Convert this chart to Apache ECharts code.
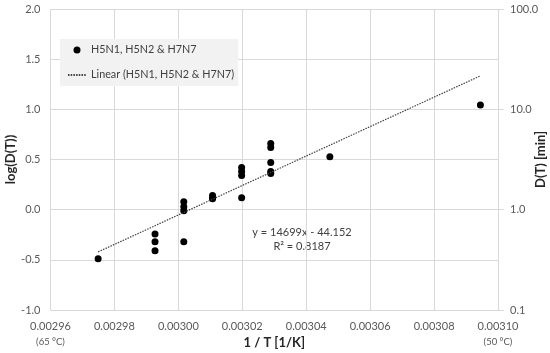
<!DOCTYPE html>
<html><head><meta charset="utf-8">
<script src="https://cdn.jsdelivr.net/npm/echarts@6/dist/echarts.min.js"></script>
<style>html,body{margin:0;padding:0;background:#fff}#c{width:550px;height:353px}</style>
</head><body><div id="c"></div>
<script>
// 1/T [1/K] of each measurement
const invT = [0.0029749, 0.0029927, 0.0029927, 0.0029927, 0.0030017, 0.0030017, 0.0030017, 0.0030017,
  0.0030107, 0.0030107, 0.0030107, 0.0030198, 0.0030198, 0.0030198, 0.0030198,
  0.0030289, 0.0030289, 0.0030289, 0.0030289, 0.0030289, 0.0030474, 0.0030945];
// log(D(T))
const logD = [-0.49, -0.243, -0.32, -0.41, 0.08, 0.03, -0.01, -0.32,
  0.14, 0.12, 0.11, 0.42, 0.38, 0.34, 0.12,
  0.66, 0.62, 0.47, 0.38, 0.36, 0.527, 1.043];
// linear trend line end points
const trendX = [0.0029749, 0.0030945];
const trendY = [-0.421, 1.334];
const xTicksNote = {"0.00296": "(65 °C)", "0.00310": "(50 °C)"};
const seriesName = "H5N1, H5N2 & H7N7";
const trendName = "Linear (H5N1, H5N2 & H7N7)";
const eqText = "y = 14699x - 44.152";
const r2Text = "R² = 0.8187";

const FONT = "Lato, 'Open Sans', sans-serif";
const chart = echarts.init(document.getElementById('c'), null, {renderer: 'canvas'});
chart.setOption({
  animation: false,
  textStyle: {fontFamily: FONT},
  grid: {left: 50.5, right: 52, top: 9, bottom: 43, containLabel: false, outerBoundsMode: 'none'},
  legend: {
    left: 60, top: 39, orient: 'vertical',
    backgroundColor: '#f2f2f2', padding: [5.5, 4, 5.5, 7],
    itemWidth: 18, itemHeight: 7, itemGap: 14, itemTextGap: 4,
    textStyle: {fontFamily: FONT, fontSize: 10.8, color: '#404040'},
    data: [{name: seriesName, icon: 'circle'},
           {name: trendName, itemStyle: {color: 'transparent', borderWidth: 0}}]
  },
  xAxis: {
    type: 'value', min: 0.00296, max: 0.00310, interval: 0.00002,
    name: '1 / T [1/K]', nameLocation: 'middle', nameGap: 26, nameMoveOverlap: false,
    nameTextStyle: {fontFamily: FONT, fontSize: 13, fontWeight: 'bold', color: '#262626'},
    axisLine: {show: false}, axisTick: {show: false},
    splitLine: {show: true, lineStyle: {color: '#d9d9d9', width: 1}},
    axisLabel: {
      margin: 9, color: '#595959', fontSize: 11, fontFamily: FONT,
      formatter: function (v) {
        const s = v.toFixed(5);
        return xTicksNote[s] ? '{a|' + s + '}\n{b|' + xTicksNote[s] + '}' : '{a|' + s + '}';
      },
      rich: {a: {fontSize: 11, lineHeight: 15, color: '#595959', fontFamily: FONT},
             b: {fontSize: 9.5, lineHeight: 15, color: '#595959', fontFamily: FONT}}
    }
  },
  yAxis: [{
    type: 'value', min: -1, max: 2, interval: 0.5,
    name: 'log(D(T))', nameLocation: 'middle', nameGap: 33, nameMoveOverlap: false,
    nameTextStyle: {fontFamily: FONT, fontSize: 13, fontWeight: 'bold', color: '#262626'},
    axisLine: {show: false}, axisTick: {show: false},
    splitLine: {show: true, lineStyle: {color: '#d9d9d9', width: 1}},
    axisLabel: {margin: 10, color: '#595959', fontSize: 11, fontFamily: FONT, formatter: v => v.toFixed(1)}
  }, {
    type: 'log', logBase: 10, min: 0.1, max: 100, position: 'right', alignTicks: false,
    name: 'D(T) [min]', nameLocation: 'middle', nameGap: 36, nameRotate: 90, nameMoveOverlap: false,
    nameTextStyle: {fontFamily: FONT, fontSize: 13, fontWeight: 'bold', color: '#262626'},
    axisLine: {show: false},
    axisTick: {show: true, length: 6, lineStyle: {color: '#d9d9d9'}},
    splitLine: {show: false},
    axisLabel: {margin: 12, color: '#595959', fontSize: 11, fontFamily: FONT, formatter: v => v.toFixed(1)}
  }],
  graphic: [
    {type: 'text', style: {text: eqText, x: 302, y: 232, align: 'center', verticalAlign: 'middle', fontSize: 11, fontFamily: FONT, fill: '#404040'}},
    {type: 'text', style: {text: r2Text, x: 302, y: 246, align: 'center', verticalAlign: 'middle', fontSize: 11, fontFamily: FONT, fill: '#404040'}}
  ],
  series: [{
    name: seriesName, type: 'scatter', yAxisIndex: 0,
    symbol: 'circle', symbolSize: 7,
    itemStyle: {color: '#000000', opacity: 1},
    data: invT.map((x, i) => [x, logD[i]])
  }, {
    name: trendName, type: 'line', yAxisIndex: 0, symbol: 'none', showSymbol: false,
    lineStyle: {color: '#404040', width: 1.2, type: [1.5, 1.2]},
    itemStyle: {color: '#404040'},
    data: trendX.map((x, i) => [x, trendY[i]])
  }]
});
</script></body></html>
